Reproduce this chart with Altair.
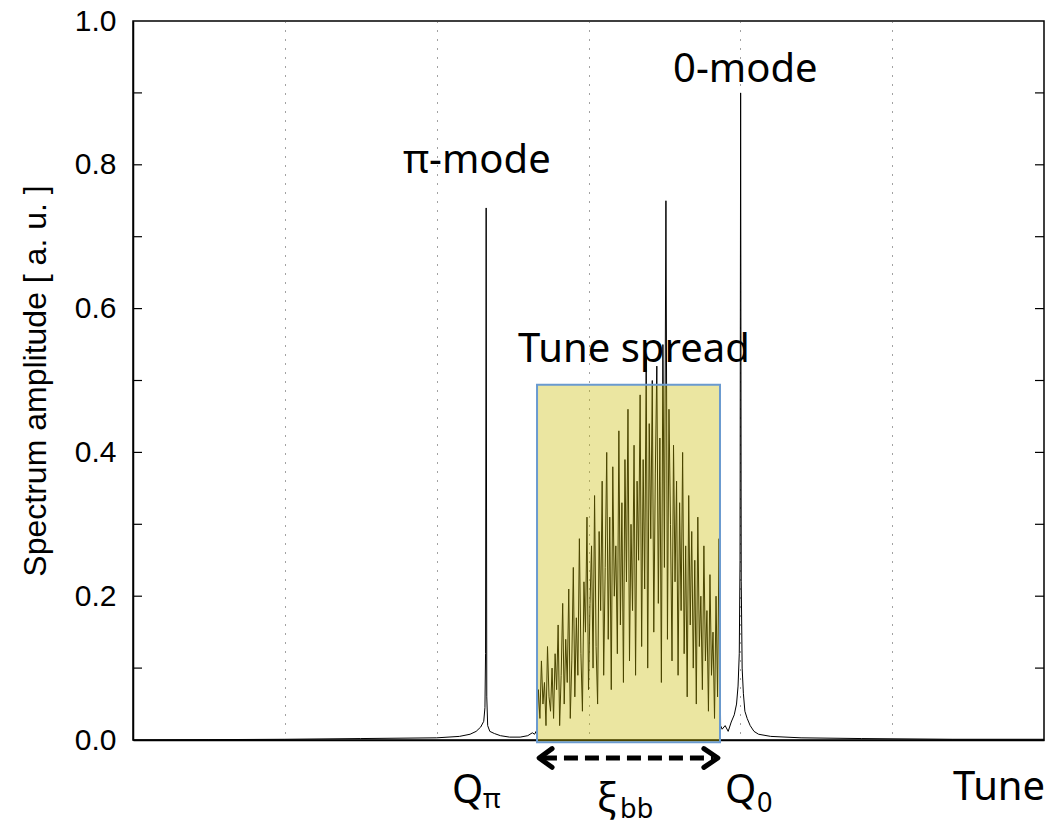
import altair as alt
import pandas as pd

# ---- data ----
tune_left = [0.0, 0.5, 1.0, 1.5, 2.0, 2.15, 2.22, 2.26, 2.29, 2.31, 2.318, 2.322, 2.326,
             2.330, 2.336, 2.35, 2.38, 2.42, 2.48, 2.55, 2.60, 2.63, 2.645, 2.655]
amp_left = [0.0, 0.0005, 0.001, 0.002, 0.003, 0.005, 0.008, 0.012, 0.018, 0.026, 0.045, 0.12, 0.74,
            0.06, 0.02, 0.012, 0.009, 0.006, 0.004, 0.004, 0.006, 0.01, 0.008, 0.012]

tune_spread = [2.66, 2.67, 2.68, 2.69, 2.70, 2.71, 2.72, 2.73, 2.74, 2.75, 2.76, 2.77, 2.78, 2.79,
               2.80, 2.81, 2.82, 2.83, 2.84, 2.85, 2.86, 2.87, 2.88, 2.89, 2.90, 2.91, 2.92, 2.93,
               2.94, 2.95, 2.96, 2.97, 2.98, 2.99, 3.00, 3.01, 3.02, 3.03, 3.04, 3.05, 3.06, 3.07,
               3.08, 3.09, 3.10, 3.11, 3.12, 3.13, 3.14, 3.15, 3.16, 3.17, 3.18, 3.19, 3.20, 3.21,
               3.22, 3.23, 3.24, 3.25, 3.26, 3.27, 3.28, 3.29, 3.30, 3.31, 3.32, 3.33, 3.34, 3.35,
               3.36, 3.37, 3.38, 3.39, 3.40, 3.41, 3.42, 3.43, 3.44, 3.45, 3.46, 3.47, 3.48, 3.49,
               3.50, 3.51, 3.52, 3.53, 3.54, 3.55, 3.56, 3.57, 3.58, 3.59, 3.60, 3.61, 3.62, 3.63,
               3.64, 3.65, 3.66, 3.67, 3.68, 3.69, 3.70, 3.71, 3.72, 3.73, 3.74, 3.75, 3.76, 3.77,
               3.78, 3.79, 3.80, 3.81, 3.82, 3.83, 3.84, 3.85, 3.86, 3.87]
amp_spread = [0.01, 0.07, 0.03, 0.11, 0.05, 0.08, 0.02, 0.13, 0.06, 0.04, 0.10, 0.03, 0.12, 0.07,
              0.16, 0.02, 0.09, 0.19, 0.05, 0.14, 0.08, 0.21, 0.03, 0.11, 0.24, 0.06, 0.17, 0.09,
              0.28, 0.12, 0.04, 0.22, 0.15, 0.31, 0.07, 0.19, 0.27, 0.10, 0.34, 0.13, 0.05, 0.29,
              0.18, 0.36, 0.09, 0.24, 0.40, 0.14, 0.31, 0.07, 0.38, 0.20, 0.27, 0.12, 0.43, 0.16,
              0.33, 0.08, 0.39, 0.22, 0.46, 0.11, 0.30, 0.18, 0.41, 0.09, 0.36, 0.25, 0.48, 0.13,
              0.39, 0.21, 0.53, 0.10, 0.44, 0.28, 0.50, 0.15, 0.37, 0.52, 0.19, 0.42, 0.08, 0.55,
              0.24, 0.75, 0.14, 0.46, 0.30, 0.11, 0.41, 0.22, 0.36, 0.09, 0.33, 0.18, 0.40, 0.12,
              0.27, 0.06, 0.34, 0.16, 0.29, 0.10, 0.25, 0.05, 0.31, 0.13, 0.20, 0.07, 0.27, 0.11,
              0.18, 0.04, 0.23, 0.09, 0.15, 0.03, 0.20, 0.06, 0.28, 0.02]

tune_right = [3.88, 3.90, 3.92, 3.94, 3.96, 3.975, 3.985, 3.993, 3.998, 4.002, 4.006, 4.012,
              4.02, 4.03, 4.045, 4.065, 4.09, 4.12, 4.2, 4.4, 4.8, 5.4, 6.0]
amp_right = [0.015, 0.02, 0.012, 0.025, 0.035, 0.05, 0.075, 0.12, 0.25, 0.90, 0.22, 0.1,
             0.065, 0.04, 0.03, 0.02, 0.012, 0.008, 0.005, 0.003, 0.002, 0.001, 0.001]

grid_tunes = [1, 2, 3, 4, 5]
y_labels = [0.0, 0.2, 0.4, 0.6, 0.8, 1.0]
y_ticks = [0.1, 0.2, 0.3, 0.4, 0.5, 0.6, 0.7, 0.8, 0.9]

spread_box = {"x": [2.661], "x2": [3.866], "y": [-0.003], "y2": [0.494]}

big_texts = ["π-mode", "0-mode", "Tune spread", "Q", "Q", "ξ", "Tune"]
big_x = [1.778, 3.557, 2.536, 2.101, 3.899, 3.056, 5.40]
big_y = [0.789, 0.915, 0.526, -0.0876, -0.0876, -0.100, -0.0834]
sub_texts = ["π", "0", "bb"]
sub_x = [2.305, 4.11, 3.208]
sub_y = [-0.0946, -0.100, -0.108]

arrow_x = [2.70, 3.82]
arrow_y = [-0.025, -0.025]
head_left_x = [2.76, 2.675, 2.76]
head_right_x = [3.76, 3.852, 3.76]
head_y = [-0.012, -0.025, -0.038]

# ---- tables ----
spec = pd.DataFrame({"tune": tune_left + tune_spread + tune_right,
                     "amp": amp_left + amp_spread + amp_right})
box = pd.DataFrame(spread_box)
big = pd.DataFrame({"t": big_texts, "x": big_x, "y": big_y})
sub = pd.DataFrame({"t": sub_texts, "x": sub_x, "y": sub_y})
arrow = pd.DataFrame({"x": arrow_x, "y": arrow_y})
heads = pd.DataFrame({
    "x": head_left_x + head_right_x,
    "y": head_y + head_y,
    "side": ["l"] * 3 + ["r"] * 3,
    "o": [0, 1, 2, 0, 1, 2],
})
ticks = pd.DataFrame({"v": y_ticks})

xs = alt.Scale(domain=[0, 6], nice=False, zero=False)
ys = alt.Scale(domain=[0, 1], nice=False, zero=False)

line = alt.Chart(spec).mark_line(color="black", strokeWidth=1).encode(
    x=alt.X("tune:Q", scale=xs, axis=alt.Axis(
        values=grid_tunes, grid=True, labels=False, ticks=False, title=None,
        domainColor="black", domainWidth=1.5,
        gridColor="#444444", gridDash=[1, 8], gridWidth=1, gridOpacity=1)),
    y=alt.Y("amp:Q", scale=ys, axis=alt.Axis(
        values=y_labels, format=".1f", grid=False, ticks=False,
        labelFontSize=30, labelFont="Liberation Sans", labelColor="black", labelPadding=17,
        title="Spectrum amplitude [ a. u. ]", titleFont="Liberation Sans", titleFontSize=32,
        titleFontWeight="normal", titleColor="black", titlePadding=22,
        domainColor="black", domainWidth=1.5)),
)

rect = alt.Chart(box).mark_rect(
    fill="#c9bc00", fillOpacity=0.37, stroke="#6a9ad0", strokeWidth=2, strokeOpacity=1
).encode(x="x:Q", x2="x2", y="y:Q", y2="y2")

arrow_line = alt.Chart(arrow).mark_line(
    color="black", strokeWidth=5, strokeDash=[14, 7]
).encode(x="x:Q", y="y:Q")

arrow_heads = alt.Chart(heads).mark_line(
    color="black", strokeWidth=5, strokeCap="round", strokeJoin="round"
).encode(x="x:Q", y="y:Q", detail="side:N", order="o:Q")

big_text = alt.Chart(big).mark_text(
    font="Noto Sans", fontSize=40, align="left", baseline="alphabetic", color="black"
).encode(x="x:Q", y="y:Q", text="t:N")

sub_text = alt.Chart(sub).mark_text(
    font="Noto Sans", fontSize=27, align="left", baseline="alphabetic", color="black"
).encode(x="x:Q", y="y:Q", text="t:N")

ticks_left = alt.Chart(ticks).mark_rule(color="black", strokeWidth=1.2).encode(
    y="v:Q", x=alt.value(0), x2=alt.value(9))
ticks_right = alt.Chart(ticks).mark_rule(color="black", strokeWidth=1.2).encode(
    y="v:Q", x=alt.value(902), x2=alt.value(911))

chart = alt.layer(
    line, rect, arrow_line, arrow_heads, big_text, sub_text, ticks_left, ticks_right
).properties(
    width=911, height=719,
    autosize=alt.AutoSizeParams(type="none"),
    padding={"left": 125, "top": 13, "right": 3, "bottom": 85},
    background="white",
).configure_view(stroke="black", strokeWidth=1.5)

chart.save("out.html", embed_options={"renderer": "svg", "actions": False})
